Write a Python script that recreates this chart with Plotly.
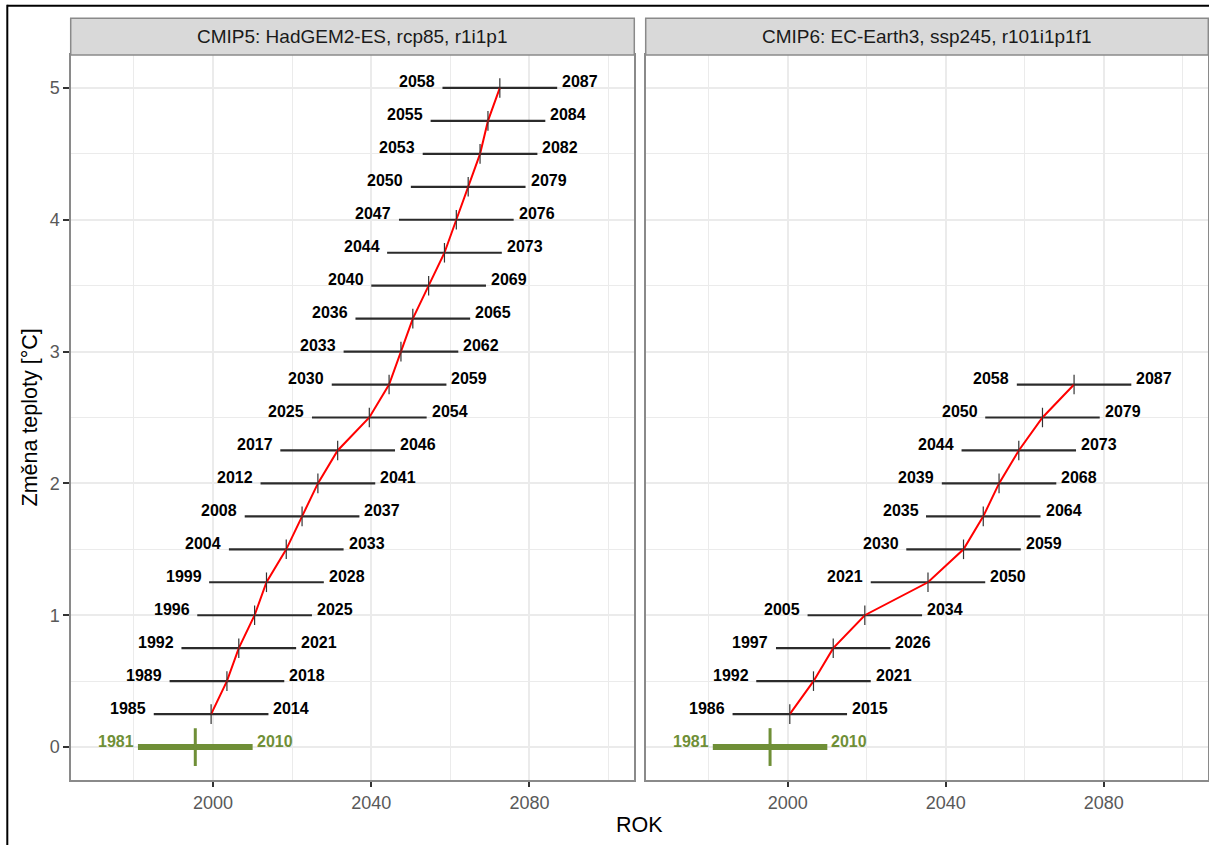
import plotly.graph_objects as go

# ---- data -------------------------------------------------------------
# 30-year windows in which each warming level is reached
cmip5_start = [1985, 1989, 1992, 1996, 1999, 2004, 2008, 2012, 2017, 2025,
               2030, 2033, 2036, 2040, 2044, 2047, 2050, 2053, 2055, 2058]
cmip5_end = [2014, 2018, 2021, 2025, 2028, 2033, 2037, 2041, 2046, 2054,
             2059, 2062, 2065, 2069, 2073, 2076, 2079, 2082, 2084, 2087]
cmip5_dt = [0.25, 0.5, 0.75, 1.0, 1.25, 1.5, 1.75, 2.0, 2.25, 2.5,
            2.75, 3.0, 3.25, 3.5, 3.75, 4.0, 4.25, 4.5, 4.75, 5.0]

cmip6_start = [1986, 1992, 1997, 2005, 2021, 2030, 2035, 2039, 2044, 2050, 2058]
cmip6_end = [2015, 2021, 2026, 2034, 2050, 2059, 2064, 2068, 2073, 2079, 2087]
cmip6_dt = [0.25, 0.5, 0.75, 1.0, 1.25, 1.5, 1.75, 2.0, 2.25, 2.5, 2.75]

ref_start, ref_end, ref_dt = 1981, 2010, 0.0

panel_titles = ["CMIP5: HadGEM2-ES, rcp85, r1i1p1",
                "CMIP6: EC-Earth3, ssp245, r101i1p1f1"]
x_ticks = [2000, 2040, 2080]
x_minor = [1980, 2020, 2060, 2100]
y_ticks = [0, 1, 2, 3, 4, 5]
y_minor = [0.5, 1.5, 2.5, 3.5, 4.5]

# ---- styling ----------------------------------------------------------
W, H = 1209, 845
FONT = "Liberation Sans, Arial, Helvetica, sans-serif"
SEG_COLOR = "#2b2b2b"
REF_COLOR = "#6f8f37"
GRID = "#ebebeb"
BORDER = "#8a8a8a"


def px(x):
    return x / W


def py(y):
    return 1 - y / H


panel_x = [(70.7, 634.3), (645.7, 1208.3)]
panel_top, panel_bottom = 55.0, 780.0
strip_top = 18.3

fig = go.Figure()
annotations = []
shapes = []

series = [(cmip5_start, cmip5_end, cmip5_dt), (cmip6_start, cmip6_end, cmip6_dt)]

for i, (starts, ends, levels) in enumerate(series):
    xa = "x" if i == 0 else "x2"
    ya = "y" if i == 0 else "y2"

    # reference period bar
    ref_mid = (ref_start + ref_end) / 2
    fig.add_trace(go.Scatter(x=[ref_start, ref_end], y=[ref_dt, ref_dt], mode="lines",
                             line=dict(color=REF_COLOR, width=6),
                             xaxis=xa, yaxis=ya, hoverinfo="skip", showlegend=False))
    fig.add_trace(go.Scatter(x=[ref_mid], y=[ref_dt], mode="markers",
                             marker=dict(symbol="line-ns", size=27,
                                         line=dict(color=REF_COLOR, width=3)),
                             xaxis=xa, yaxis=ya, hoverinfo="skip", showlegend=False))

    # horizontal windows
    seg_x, seg_y = [], []
    for s, e, v in zip(starts, ends, levels):
        seg_x += [s, e, None]
        seg_y += [v, v, None]
    fig.add_trace(go.Scatter(x=seg_x, y=seg_y, mode="lines",
                             line=dict(color=SEG_COLOR, width=2.2),
                             xaxis=xa, yaxis=ya, hoverinfo="skip", showlegend=False))

    # centre of each window joined by the red line
    mids = [(s + e) / 2 for s, e in zip(starts, ends)]
    fig.add_trace(go.Scatter(x=mids, y=levels, mode="lines",
                             line=dict(color="#ff0000", width=2),
                             xaxis=xa, yaxis=ya, hoverinfo="skip", showlegend=False))
    fig.add_trace(go.Scatter(x=mids, y=levels, mode="markers",
                             marker=dict(symbol="line-ns", size=14,
                                         line=dict(color="#333333", width=1.2)),
                             xaxis=xa, yaxis=ya, hoverinfo="skip", showlegend=False))

    # year labels at both ends
    for s, e, v in zip(starts, ends, levels):
        annotations.append(dict(x=s, y=v, xref=xa, yref=ya, text=str(s),
                                showarrow=False, xanchor="right", yanchor="middle",
                                xshift=-5.5, yshift=6,
                                font=dict(family=FONT, size=16, color="#000000", weight="bold")))
        annotations.append(dict(x=e, y=v, xref=xa, yref=ya, text=str(e),
                                showarrow=False, xanchor="left", yanchor="middle",
                                xshift=3, yshift=6,
                                font=dict(family=FONT, size=16, color="#000000", weight="bold")))
    annotations.append(dict(x=ref_start, y=ref_dt, xref=xa, yref=ya, text=str(ref_start),
                            showarrow=False, xanchor="right", yanchor="middle",
                            xshift=-2, yshift=6,
                            font=dict(family=FONT, size=16, color=REF_COLOR, weight="bold")))
    annotations.append(dict(x=ref_end, y=ref_dt, xref=xa, yref=ya, text=str(ref_end),
                            showarrow=False, xanchor="left", yanchor="middle",
                            xshift=2, yshift=6,
                            font=dict(family=FONT, size=16, color=REF_COLOR, weight="bold")))

    # facet strip
    x0, x1 = panel_x[i]
    shapes.append(dict(type="rect", xref="paper", yref="paper",
                       x0=px(x0), x1=px(x1), y0=py(panel_top), y1=py(strip_top),
                       fillcolor="#d9d9d9", line=dict(color=BORDER, width=1.5), layer="above"))
    annotations.append(dict(x=px((x0 + x1) / 2), y=py((panel_top + strip_top) / 2),
                            xref="paper", yref="paper", text=panel_titles[i],
                            showarrow=False, xanchor="center", yanchor="middle",
                            font=dict(family=FONT, size=19, color="#1a1a1a")))

# outer frame lines (top and left)
shapes.append(dict(type="line", xref="paper", yref="paper",
                   x0=px(7.3), x1=1.01, y0=py(5.7), y1=py(5.7),
                   line=dict(color="#000000", width=2)))
shapes.append(dict(type="line", xref="paper", yref="paper",
                   x0=px(7.3), x1=px(7.3), y0=py(4.7), y1=-0.01,
                   line=dict(color="#000000", width=2)))

# axis titles
annotations.append(dict(x=px((panel_x[0][0] + panel_x[1][1]) / 2), y=py(825),
                        xref="paper", yref="paper", text="ROK", showarrow=False,
                        xanchor="center", yanchor="middle",
                        font=dict(family=FONT, size=21.5, color="#000000")))
annotations.append(dict(x=px(29), y=py((panel_top + panel_bottom) / 2),
                        xref="paper", yref="paper", text="Změna teploty [°C]",
                        showarrow=False, textangle=-90, xanchor="center", yanchor="middle",
                        font=dict(family=FONT, size=21.5, color="#000000")))

x_range = [1964, 2106.5]
y_range = [-0.25, 5.25]


def xaxis_cfg(i):
    x0, x1 = panel_x[i]
    return dict(domain=[px(x0), px(x1)], range=x_range, anchor="y" if i == 0 else "y2",
                tickmode="array", tickvals=x_ticks, ticktext=[str(t) for t in x_ticks],
                ticks="outside", ticklen=5.5, tickwidth=1.5, tickcolor="#333333",
                tickfont=dict(family=FONT, size=18, color="#595959"),
                showgrid=True, gridcolor=GRID, gridwidth=2,
                minor=dict(tickvals=x_minor, showgrid=True, gridcolor=GRID, gridwidth=1, ticks=""),
                showline=True, mirror=True, linecolor=BORDER, linewidth=1.5,
                zeroline=False, fixedrange=True)


def yaxis_cfg(i):
    cfg = dict(domain=[py(panel_bottom), py(panel_top)], range=y_range,
               anchor="x" if i == 0 else "x2",
               tickmode="array", tickvals=y_ticks, ticktext=[str(t) for t in y_ticks],
               showgrid=True, gridcolor=GRID, gridwidth=2,
               minor=dict(tickvals=y_minor, showgrid=True, gridcolor=GRID, gridwidth=1, ticks=""),
               showline=True, mirror=True, linecolor=BORDER, linewidth=1.5,
               zeroline=False, fixedrange=True)
    if i == 0:
        cfg.update(ticks="outside", ticklen=5.5, tickwidth=1.5, tickcolor="#333333",
                   tickfont=dict(family=FONT, size=18, color="#595959"))
    else:
        cfg.update(ticks="", showticklabels=False, matches="y")
    return cfg


fig.update_layout(
    width=W, height=H,
    margin=dict(l=0, r=0, t=0, b=0),
    paper_bgcolor="#ffffff", plot_bgcolor="#ffffff",
    showlegend=False,
    xaxis=xaxis_cfg(0), xaxis2=xaxis_cfg(1),
    yaxis=yaxis_cfg(0), yaxis2=yaxis_cfg(1),
    annotations=annotations, shapes=shapes,
    font=dict(family=FONT),
)

fig.write_html("out.html")
